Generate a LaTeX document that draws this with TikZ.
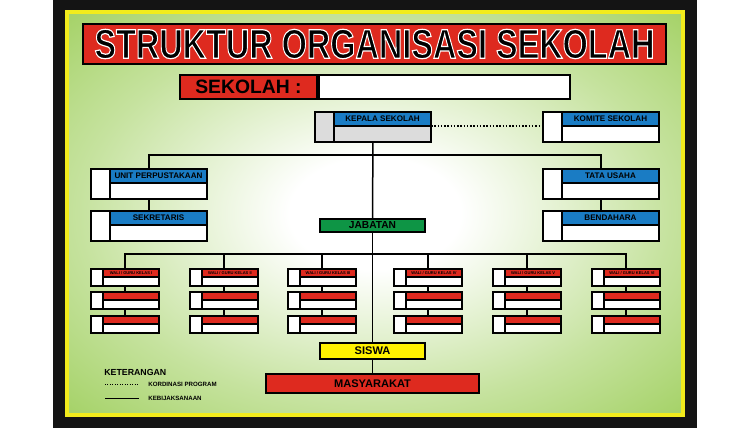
\documentclass[tikz,border=0pt]{standalone}
\usepackage{fontspec}
\setmainfont{Liberation Sans}
\usepackage{graphicx}
\usetikzlibrary{calc}
\usepackage{xcolor}

\definecolor{bggreen}{HTML}{8DC63F}
\definecolor{mred}{HTML}{DE2A1F}
\definecolor{mblue}{HTML}{1A7CC4}
\definecolor{mgreen}{HTML}{0E9545}
\definecolor{myellow}{HTML}{FFF200}
\definecolor{mgray}{HTML}{DCDCDC}
\definecolor{rim}{HTML}{F2EC1C}

\pgfdeclareradialshading{panel}{\pgfpoint{0bp}{0bp}}{%
  color(0bp)=(white); color(7bp)=(white); color(24bp)=(bggreen!50!white);
  color(44bp)=(bggreen); color(75bp)=(bggreen!85!black)}

% outlined lettering (fill, then white stroke)
\newcommand{\outlined}[1]{%
  \special{pdf:literal direct 2 Tr 1 1 1 RG 0.7 w}#1\special{pdf:literal direct 0 Tr 0 0 0 RG}}

% box with a blank left column and a coloured heading strip
\newcommand{\bigbox}[5]{%
  \node[frame, fill=#4, minimum width=23.2mm, minimum height=6mm, anchor=north west] (#1) at (#2,#3) {};
  \node[frame, fill=mblue, minimum width=19.4mm, minimum height=2.8mm, anchor=north east, font=\fontsize{4.6}{5}\selectfont\bfseries] (#1h) at (#1.north east) {#5};
  \draw[frame] (#1h.north west) -- (#1h.north west |- #1.south);
}
\newcommand{\classbox}[4]{%
  \node[frame, fill=white, minimum width=13.6mm, minimum height=3.4mm, anchor=north west] (#1) at (#2,#3) {};
  \node[frame, fill=mred, minimum width=11.2mm, minimum height=1.5mm, anchor=north east, font=\fontsize{2.3}{2.5}\selectfont\bfseries] (#1h) at (#1.north east) {#4};
  \draw[frame] (#1h.north west) -- (#1h.north west |- #1.south);
}

\begin{document}
\begin{tikzpicture}
    [   x = 0.2mm
    ,   y = -0.2mm
    ,   frame/.style =
        {   draw
        ,   line width = 0.4mm
        ,   inner sep = 0mm
        ,   outer sep = 0mm
        }
    ,   link/.style = {line width = 0.3mm}
    ,   plate/.style =
        {   frame
        ,   font = \fontsize{6.3}{7}\selectfont\bfseries
        }
    ,   legend/.style =
        {   inner sep = 0mm
        ,   anchor = west
        ,   font = \fontsize{3.5}{4}\selectfont\bfseries
        }
    ]
    \useasboundingbox (0,0) rectangle (750,430);
    \fill[black!92] (53,0) rectangle (697,428);
    \shade[shading=panel] (69,14) rectangle (681,413);
    \draw[rim, line width=0.8mm] (67,12) rectangle (683,415);

    % heading
    \node[frame, fill=mred, minimum width=116.6mm, minimum height=8mm] (title) at (374.5,44)
        {\resizebox{112mm}{5.8mm}{\fontsize{24}{26}\selectfont\bfseries\outlined{STRUKTUR ORGANISASI SEKOLAH}}};
    \node[frame, fill=mred, minimum width=27.4mm, minimum height=4.8mm, font=\fontsize{11}{12}\selectfont\bfseries] (sekolah) at (248.5,87) {SEKOLAH :};
    \node[frame, fill=white, minimum width=50.2mm, minimum height=4.8mm] (nama) at (444.5,87) {};

    % boxes
    \bigbox{kepala}{315}{112}{mgray}{KEPALA SEKOLAH}
    \bigbox{komite}{543}{112}{white}{KOMITE SEKOLAH}
    \bigbox{upt}{91}{169}{white}{UNIT PERPUSTAKAAN}
    \bigbox{sek}{91}{211}{white}{SEKRETARIS}
    \bigbox{tu}{543}{169}{white}{TATA USAHA}
    \bigbox{bend}{543}{211}{white}{BENDAHARA}

    \node[plate, fill=mgreen, minimum width=21mm, minimum height=2.6mm, font=\fontsize{5.8}{6}\selectfont\bfseries] (jabatan) at (372.5,225.5) {JABATAN};
    \node[plate, fill=myellow, minimum width=21mm, minimum height=3.2mm] (siswa) at (372.5,351) {SISWA};
    \node[plate, fill=mred, minimum width=42.6mm, minimum height=3.8mm] (masy) at (372.5,383.5) {MASYARAKAT};

    \coordinate (bar1) at (372.5,155);
    \coordinate (bar2) at (372.5,254);

    % lines
    \draw[link, densely dotted] (kepalah.south east) -- (kepalah.south east -| komite.west);
    \draw[link] (kepala) -- (jabatan);
    \draw[link] (jabatan) -- (siswa);
    \draw[link] (siswa) -- (masy);
    \draw[link] (upt.north) |- (bar1) -| (tu.north);
    \draw[link] (upt) -- (sek);
    \draw[link] (tu) -- (bend);

    \foreach\k/\x/\r in {1/91/I,2/190/II,3/288/III,4/394/IV,5/493/V,6/592/VI}
    {   \classbox{k\k a}{\x}{269}{WALI / GURU KELAS \r}
        \classbox{k\k b}{\x}{292}{}
        \classbox{k\k c}{\x}{316}{}
        \draw[link] (k\k a) -- (k\k b);
        \draw[link] (k\k b) -- (k\k c);
        \draw[link] (k\k a.north) -- (k\k a.north |- bar2);
    }
    \draw[link] (k1a.north) |- (bar2) -| (k6a.north);

    % legend
    \node[legend, font=\fontsize{5}{6}\selectfont\bfseries] (ket) at (104,372) {KETERANGAN};
    \node[legend] (kord) at (148,384) {KORDINASI PROGRAM};
    \node[legend] (kebij) at (148,398) {KEBIJAKSANAAN};
    \draw[densely dotted, thin] ([xshift=-8.6mm]kord.west) -- ([xshift=-1.8mm]kord.west);
    \draw[thin] ([xshift=-8.6mm]kebij.west) -- ([xshift=-1.8mm]kebij.west);

\end{tikzpicture}
\end{document}
